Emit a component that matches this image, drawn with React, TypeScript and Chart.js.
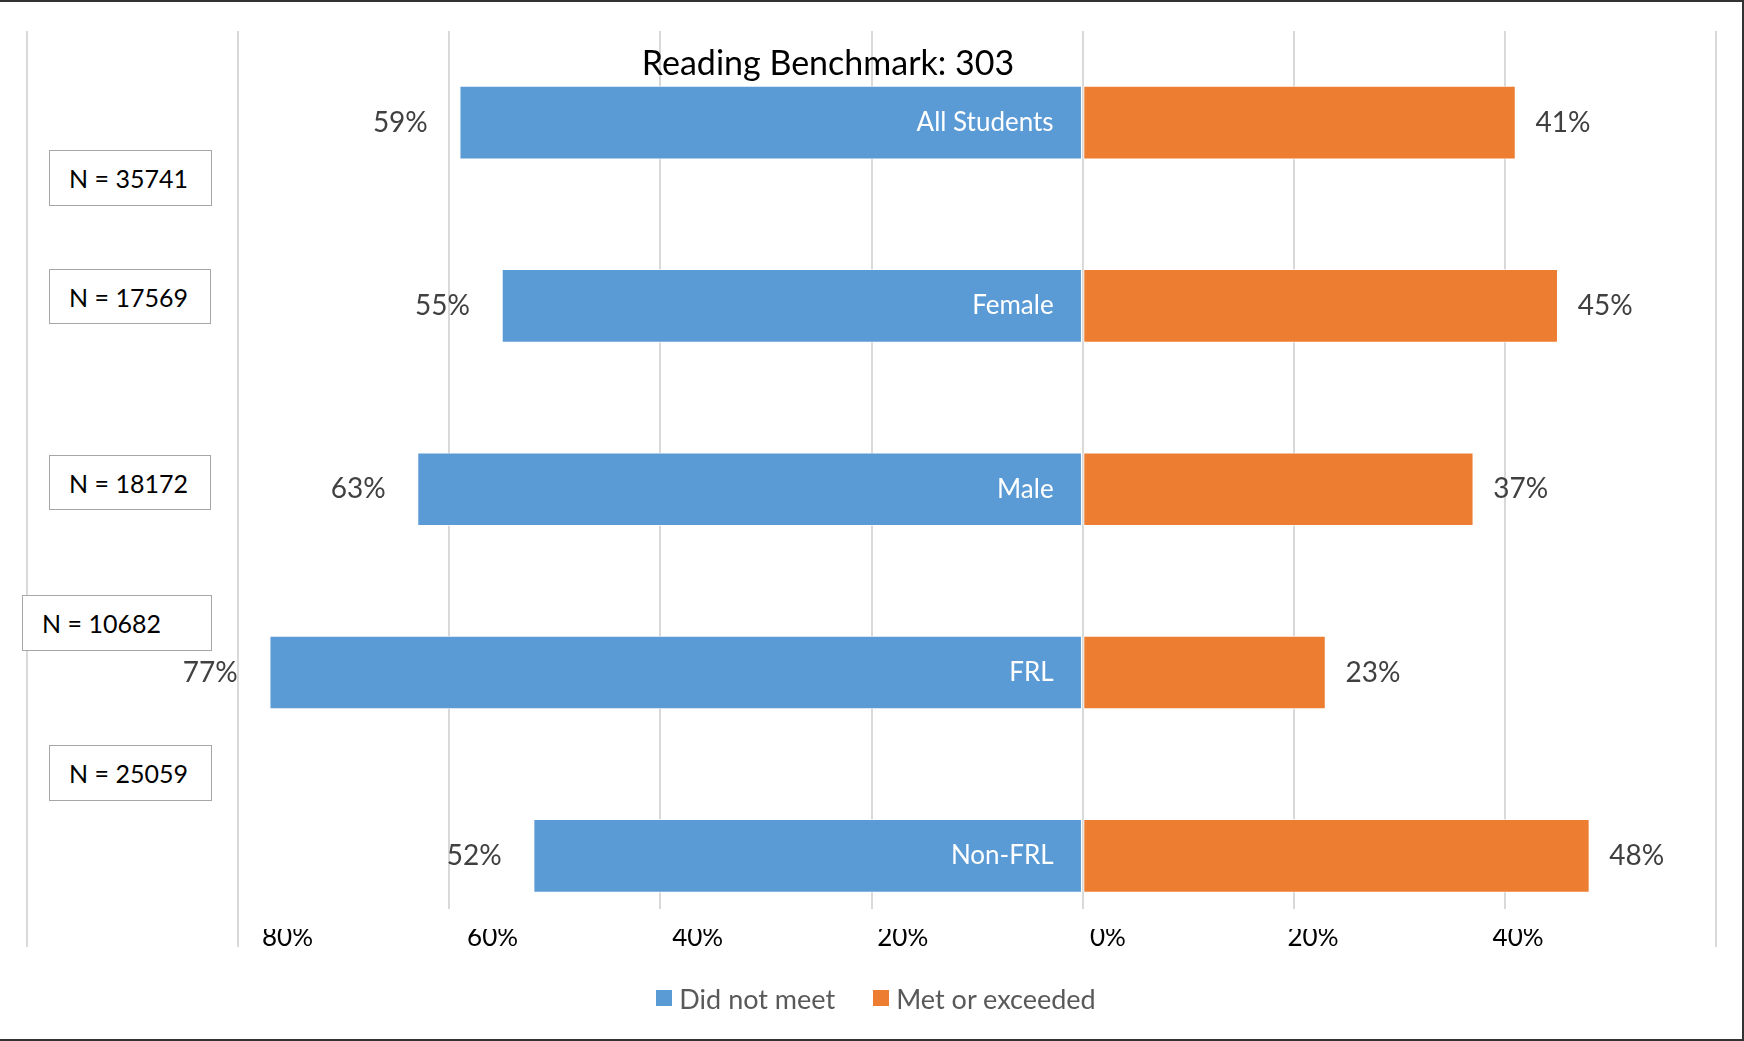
import React, { useEffect, useRef } from "react";
import { Chart, registerables } from "chart.js";

Chart.register(...registerables);

// ---------- data ----------
const CATEGORIES = ["All Students", "Female", "Male", "FRL", "Non-FRL"];
const DID_NOT_MEET = [59, 55, 63, 77, 52];
const MET_OR_EXCEEDED = [41, 45, 37, 23, 48];
const N_COUNTS = [35741, 17569, 18172, 10682, 25059];
const SERIES_NAMES = ["Did not meet", "Met or exceeded"];
const TITLE = "Reading Benchmark: 303";

// ---------- layout / style ----------
const W = 1744;
const H = 1041;
const BLUE = "#5B9BD5";
const ORANGE = "#ED7D31";
const SERIES_COLORS = [BLUE, ORANGE];
const FONT = "Lato, 'Open Sans', sans-serif";
// note boxes (left, top, width, height) in page px
const N_BOXES = [
  { left: 49, top: 150, width: 163, height: 56 },
  { left: 49, top: 269, width: 162, height: 55 },
  { left: 49, top: 455, width: 162, height: 55 },
  { left: 22, top: 595, width: 190, height: 56 },
  { left: 49, top: 745, width: 163, height: 56 },
];

const labelPlugin = {
  id: "barLabels",
  afterDatasetsDraw(chart: any) {
    const ctx = chart.ctx;
    const xs = chart.scales.x;
    const zeroX = xs.getPixelForValue(0);
    ctx.save();
    ctx.textBaseline = "middle";
    chart.data.datasets.forEach((ds: any, di: number) => {
      const meta = chart.getDatasetMeta(di);
      meta.data.forEach((bar: any, i: number) => {
        const v = Math.abs(ds.data[i].x);
        ctx.font = `28px ${FONT}`;
        ctx.fillStyle = "#404040";
        if (di === 0) {
          ctx.textAlign = "right";
          ctx.fillText(`${v}%`, bar.x - 32, bar.y);
          ctx.font = `26px ${FONT}`;
          ctx.fillStyle = "#ffffff";
          ctx.fillText(CATEGORIES[i], zeroX - 29, bar.y);
        } else {
          ctx.textAlign = "left";
          ctx.fillText(`${v}%`, bar.x + 20, bar.y);
        }
      });
    });
    ctx.restore();
  },
};

export default function App() {
  const ref = useRef<HTMLCanvasElement | null>(null);

  useEffect(() => {
    if (!ref.current) return;
    const chart = new Chart(ref.current, {
      type: "bar",
      data: {
        datasets: [
          {
            label: SERIES_NAMES[0],
            data: DID_NOT_MEET.map((v, i) => ({ x: -v, y: i })),
            backgroundColor: BLUE,
            borderColor: "rgba(255,255,255,0.7)",
            borderWidth: 1,
            borderSkipped: false,
            barThickness: 73,
          },
          {
            label: SERIES_NAMES[1],
            data: MET_OR_EXCEEDED.map((v, i) => ({ x: v, y: i })),
            backgroundColor: ORANGE,
            borderColor: "rgba(255,255,255,0.7)",
            borderWidth: 1,
            borderSkipped: false,
            barThickness: 73,
          },
        ],
      },
      options: {
        indexAxis: "y",
        animation: false,
        responsive: false,
        devicePixelRatio: 1,
        layout: { padding: { left: 27, right: 28, top: 31, bottom: 94 } },
        scales: {
          y: {
            type: "linear",
            display: false,
            reverse: true,
            stacked: true,
            offset: false,
            min: -0.5,
            max: CATEGORIES.length - 0.5 - 0.21,
          },
          x: {
            type: "linear",
            position: "bottom",
            weight: 0,
            stacked: true,
            min: -100,
            max: 60,
            ticks: { display: false, stepSize: 20 },
            border: { display: false },
            grid: {
              color: "#d9d9d9",
              lineWidth: 2,
              drawTicks: true,
              tickLength: 38,
              tickColor: (c: any) =>
                c.tick && (c.tick.value < -70 || c.tick.value > 50) ? "#d9d9d9" : "rgba(0,0,0,0)",
              tickWidth: 2,
            },
          },
          x2: {
            type: "linear",
            position: "bottom",
            weight: 1,
            min: -105.4,
            max: 59.3,
            border: { display: false },
            grid: { display: false, drawTicks: false },
            ticks: {
              stepSize: 20,
              includeBounds: false,
              padding: -24.6,
              color: "#000000",
              font: { family: FONT, size: 26 },
              maxRotation: 0,
              autoSkip: false,
              callback: (v: any) => (v < -80 || v > 40 ? "" : `${Math.abs(Math.round(v))}%`),
            },
          },
        },
        plugins: {
          legend: { display: false },
          title: { display: false },
          tooltip: { enabled: false },
        },
      },
      plugins: [labelPlugin],
    } as any);
    return () => chart.destroy();
  }, []);

  return (
    <div
      style={{
        position: "absolute",
        left: 0,
        top: 0,
        width: W,
        height: H,
        background: "#ffffff",
        overflow: "hidden",
      }}
    >
      <canvas ref={ref} width={W} height={H} style={{ position: "absolute", left: 0, top: 0, width: W, height: H }} />
      <div
        style={{
          position: "absolute",
          left: 428,
          top: 45,
          width: 800,
          textAlign: "center",
          fontFamily: FONT,
          fontSize: 34,
          lineHeight: "34px",
          color: "#000",
        }}
      >
        {TITLE}
      </div>
      {N_COUNTS.map((n, i) => (
        <div
          key={i}
          style={{
            position: "absolute",
            left: N_BOXES[i].left,
            top: N_BOXES[i].top,
            width: N_BOXES[i].width,
            height: N_BOXES[i].height,
            boxSizing: "border-box",
            border: "1.5px solid #a6a6a6",
            background: "#fff",
            display: "flex",
            alignItems: "center",
            paddingLeft: 19,
            fontFamily: FONT,
            fontSize: 25,
            color: "#000",
          }}
        >
          {`N = ${n}`}
        </div>
      ))}
      {/* legend */}
      <div
        style={{
          position: "absolute",
          left: 0,
          top: 982,
          width: 1752,
          height: 32,
          display: "flex",
          justifyContent: "center",
          alignItems: "center",
          fontFamily: FONT,
          fontSize: 27,
          color: "#595959",
        }}
      >
        {SERIES_NAMES.map((name, i) => (
          <div key={i} style={{ display: "flex", alignItems: "center", marginLeft: i === 0 ? 0 : 38 }}>
            <span style={{ width: 16, height: 16, background: SERIES_COLORS[i], marginRight: 7, display: "inline-block" }} />
            <span>{name}</span>
          </div>
        ))}
      </div>
      <div
        style={{
          position: "absolute",
          left: 0,
          top: 0,
          width: W,
          height: H,
          boxSizing: "border-box",
          borderTop: "2px solid #333",
          borderRight: "2px solid #333",
          borderBottom: "2px solid #333",
          pointerEvents: "none",
        }}
      />
    </div>
  );
}
